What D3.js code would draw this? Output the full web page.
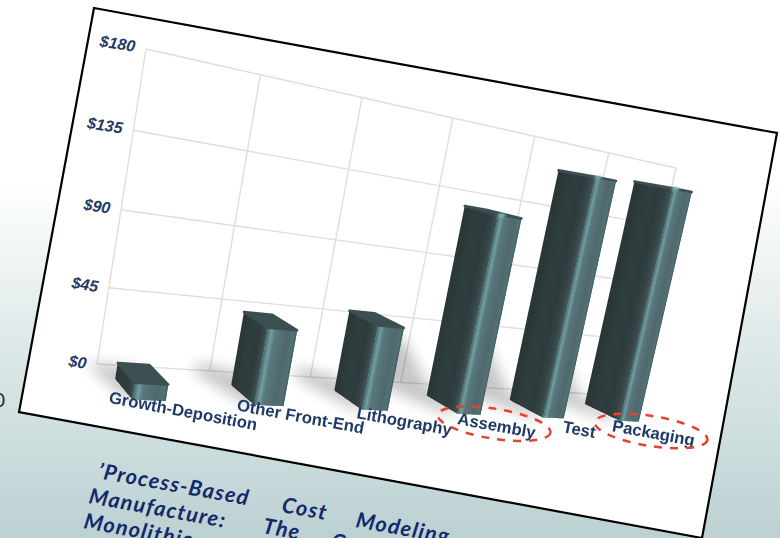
<!DOCTYPE html>
<html><head><meta charset="utf-8">
<style>html,body{margin:0;padding:0;overflow:hidden;background:#fff}svg{display:block}</style>
<script src="https://cdn.jsdelivr.net/npm/d3@7"></script></head>
<body><svg id="chart" width="780" height="538"></svg>
<script>
// Chart data
const categories = ["Growth-Deposition","Other Front-End","Lithography","Assembly","Test","Packaging"];
const costs = [9, 44, 51, 126, 160, 163];
const ticks = [0, 45, 90, 135, 180];
const circled = ["Assembly","Packaging"];
const captionLines = [
  ["\u2019Process-Based","Cost","Modeling"],
  ["Manufacture:","The","Cost"],
  ["Monolithic"]
];

// Tilted sheet and the quad of the back wall on the page
const sheet = [[94,8],[777,133],[702,538],[19,412]];
const wall = {bl:[97,364], br:[624,396], tr:[676,168], tl:[146,49]};
const depthVanish = [-157,47];

// Square-to-quad homography for the wall, with a depth axis running to a vanishing point
const H = (() => {
  const [x0,y0]=wall.bl,[x1,y1]=wall.br,[x2,y2]=wall.tr,[x3,y3]=wall.tl;
  const dx1=x1-x2,dx2=x3-x2,sx=x0-x1+x2-x3,dy1=y1-y2,dy2=y3-y2,sy=y0-y1+y2-y3;
  const den=dx1*dy2-dx2*dy1, g=(sx*dy2-dx2*sy)/den, h=(dx1*sy-sx*dy1)/den;
  return {a:x1-x0+g*x1,b:x3-x0+h*x3,c:x0,d:y1-y0+g*y1,e:y3-y0+h*y3,f:y0,g,h};
})();
const project = (u,v,w=0) => {
  const W=H.g*u+H.h*v+1-w;
  return [(H.a*u+H.b*v+H.c-w*depthVanish[0])/W,(H.d*u+H.e*v+H.f-w*depthVanish[1])/W];
};

const xBand = d3.scaleBand().domain(categories).range([0,1]);
const yVal = d3.scaleLinear().domain([0,180]).range([0,1]);
const barLeft = 0.055, barRight = 0.315, depthBack = 0.043, depthFront = 0.10, labelDepth = 0.125;

// Shading across a bar's faces, from the back-left edge round to the lit corner and on
const leftShade = d3.scaleLinear().domain([0,.4,.7,.88,1]).range(["#2a3637","#303e3f","#2f3c3d","#364647","#46595b"]);
const frontShade = d3.scaleLinear().domain([0,.08,.14,.28,.7,.93,1]).range(["#4a6467","#5f888d","#70a0a5","#5a787c","#50696d","#527276","#43595c"]);

const svg = d3.select("#chart");
const defs = svg.append("defs");

// Page background fading from white into a grey-teal
const bg = defs.append("linearGradient").attr("id","bg").attr("x1",0).attr("y1",0).attr("x2",0).attr("y2",1);
[[0,"#ffffff"],[.34,"#ffffff"],[.6,"#e2ebeb"],[.8,"#cfdfdf"],[1,"#bcd0d2"]].forEach(([o,c])=>bg.append("stop").attr("offset",o).attr("stop-color",c));
svg.append("rect").attr("width",780).attr("height",538).attr("fill","url(#bg)");
const blur=(id,s)=>defs.append("filter").attr("id",id).attr("x","-60%").attr("y","-60%").attr("width","220%").attr("height","220%")
  .append("feGaussianBlur").attr("stdDeviation",s);
blur("soft",7); blur("glint",1.2); blur("edge",.45);

const poly = d3.line().curve(d3.curveLinearClosed);

// Partially cropped glyph at the left edge
svg.append("text").attr("x",-6).attr("y",407).attr("font-family","Lato").attr("font-size",19).attr("fill","#1c2a44").text("0");

// Caption behind the sheet, word by word because it is justified
const capG = svg.append("g").attr("font-family","Lato").attr("font-style","italic").attr("font-weight",700)
  .attr("font-size",21.5).attr("letter-spacing",1.3).attr("fill","#12296b");
const capStarts = [[[97,478],[281,512],[355,527]],[[88,503],[262,533],[330,548]],[[83,528]]];
captionLines.forEach((line,i)=>line.forEach((word,j)=>{
  const [x,y]=capStarts[i][j];
  capG.append("text").attr("transform",`translate(${x},${y}) rotate(10.3)`).text(word);
}));

// White sheet
svg.append("path").attr("d",poly(sheet)).attr("fill","#fff").attr("stroke","#000").attr("stroke-width",2.2).attr("stroke-linejoin","miter");

const plot = svg.append("g");

// Grid on the back wall
const gridG = plot.append("g").attr("fill","none").attr("stroke","#dedede").attr("stroke-width",1.4);
ticks.forEach(t=>gridG.append("path").attr("d",d3.line()([project(0,yVal(t)),project(1,yVal(t))])));
[...categories.map(c=>xBand(c)),1].forEach(u=>gridG.append("path").attr("d",d3.line()([project(u,0),project(u,1)])));

// Soft shadows thrown onto the wall and floor to the left of each bar
const shadowG = plot.append("g").attr("filter","url(#soft)").attr("fill","#000").attr("opacity",.22);
categories.forEach((c,i)=>{
  const b=xBand.bandwidth(), u0=xBand(c)+barLeft*b, u1=xBand(c)+barRight*b;
  const v=yVal(costs[i]);
  const h=Math.min(v*v*.35,.2);
  const reach=.02+v*.07;
  shadowG.append("path").attr("d",poly([
    project(u0+.01,0,depthFront), project(u0-reach*.35,0,depthFront),
    project(u0-reach,0,.01), project(u0-reach,h,0), project(u0-reach*.3,h,0), project(u1,0,0)
  ]));
});

// Bars: faces are sliced into strips so the shading follows the perspective;
// each strip overlaps the next one to leave no seams
const barG = plot.append("g").attr("filter","url(#edge)");
const steps = 24;
const slices = d3.range(steps).map(k=>k/steps);
const lerp = (a,b,t)=>a+(b-a)*t;
categories.forEach((c,i)=>{
  const b=xBand.bandwidth(), u0=xBand(c)+barLeft*b, u1=xBand(c)+barRight*b, top=yVal(costs[i]);
  const strip=(pts,col)=>barG.append("path").attr("d",poly(pts)).attr("fill",col);
  slices.forEach(t=>{
    const t2=Math.min(1,t+2/steps), w=lerp(depthBack,depthFront,t), w2=lerp(depthBack,depthFront,t2);
    strip([project(u0,0,w),project(u0,0,w2),project(u0,top,w2),project(u0,top,w)],leftShade(t+.5/steps));
  });
  slices.forEach(t=>{
    const t2=Math.min(1,t+2/steps), u=lerp(u0,u1,t), u2=lerp(u0,u1,t2);
    strip([project(u,0,depthFront),project(u2,0,depthFront),project(u2,top,depthFront),project(u,top,depthFront)],frontShade(t+.5/steps));
  });
  barG.append("path").attr("d",poly([project(u0,top,depthBack),project(u1,top,depthBack),project(u1,top,depthFront),project(u0,top,depthFront)]))
    .attr("fill","#3e4f51").attr("stroke","#3e4f51").attr("stroke-width",2.4).attr("stroke-linejoin","round");
  if (costs[i]>90) {
    const [gx,gy]=project(lerp(u0,u1,.14),top,depthFront);
    barG.append("ellipse").attr("cx",gx).attr("cy",gy).attr("rx",4).attr("ry",1.6).attr("fill","#8cc3c8").attr("filter","url(#glint)");
  }
});

// Value axis labels
const labelFill="#1f3a66";
const yLab = plot.append("g").attr("font-family","Liberation Sans").attr("font-weight",700).attr("font-style","italic").attr("font-size",16).attr("fill",labelFill).attr("text-anchor","end");
ticks.forEach(t=>{
  const [x,y]=project(-0.016,yVal(t));
  yLab.append("text").attr("transform",`translate(${x},${y+5.5}) rotate(9)`).text("$"+t);
});

// Category labels along the front of the floor
const xLab = plot.append("g").attr("font-family","Liberation Sans").attr("font-weight",700).attr("font-size",16.7).attr("fill",labelFill).attr("text-anchor","middle");
const labelY = d3.scaleLinear().domain([181,652]).range([411,433]);
const labelPos = c => { const x=project(xBand(c)+xBand.bandwidth()/2,0,labelDepth)[0]-16; return [x,labelY(x)]; };
categories.forEach(c=>{
  const [x,y]=labelPos(c);
  xLab.append("text").attr("transform",`translate(${x},${y+5.5}) rotate(10.5)`).text(c);
});

// Dashed rings around the highlighted categories
categories.filter(c=>circled.includes(c)).forEach(c=>{
  const [x,y]=labelPos(c);
  plot.append("ellipse").attr("transform",`translate(${x-1.5},${y-2}) rotate(9)`).attr("rx",57).attr("ry",15)
    .attr("fill","none").attr("stroke","#e8412f").attr("stroke-width",2.5).attr("stroke-dasharray","8 8");
});
</script></body></html>
